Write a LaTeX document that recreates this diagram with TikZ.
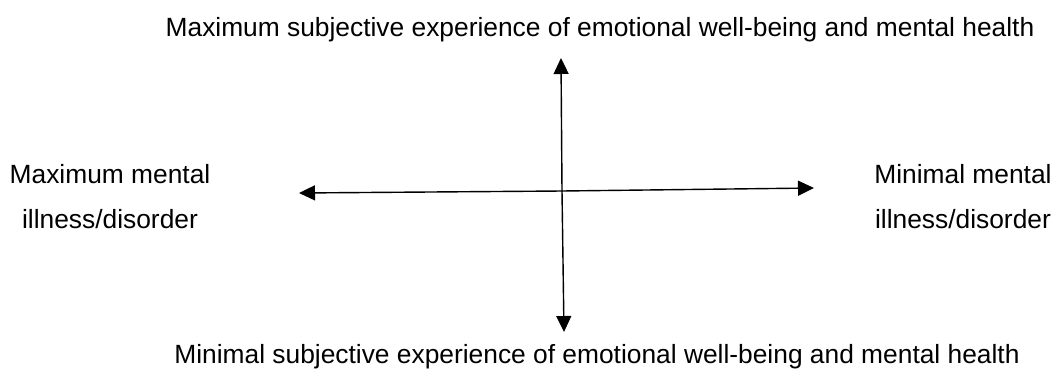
\documentclass[tikz,border=0pt]{standalone}
\usepackage{fontspec}
\setmainfont{Liberation Sans}
\usetikzlibrary{arrows.meta, positioning, calc}
\tikzset{label/.style={align=center, font=\fontsize{15}{25.6}\selectfont, inner sep=0pt}}
\tikzset{axis/.style={thick, -{Triangle[length=0.32cm, width=0.3cm]}}}

\begin{document}
\begin{tikzpicture}[x=0.02cm, y=-0.02cm]
		\useasboundingbox (0, 0) rectangle (1055, 379);
		\coordinate (center) at (562, 191);
		\coordinate (left)   at (299, 193);
		\coordinate (right)  at (814, 188);
		\coordinate (top)    at (561, 58);
		\coordinate (bottom) at (564, 332);

		\node[label] (MAXWB) at (600, 30) {Maximum subjective experience of emotional well-being and mental health};
		\node[label] (MINWB) at (597, 357) {Minimal subjective experience of emotional well-being and mental health};
		\node[label] (MAXMI) at (110, 197) {Maximum mental\\illness/disorder};
		\node[label] (MINMI) at (963, 197) {Minimal mental\\illness/disorder};

		\draw[axis] (center) -- (left);
		\draw[axis] (center) -- (right);
		\draw[axis] (center) -- (top);
		\draw[axis] (center) -- (bottom);
\end{tikzpicture}
\end{document}
